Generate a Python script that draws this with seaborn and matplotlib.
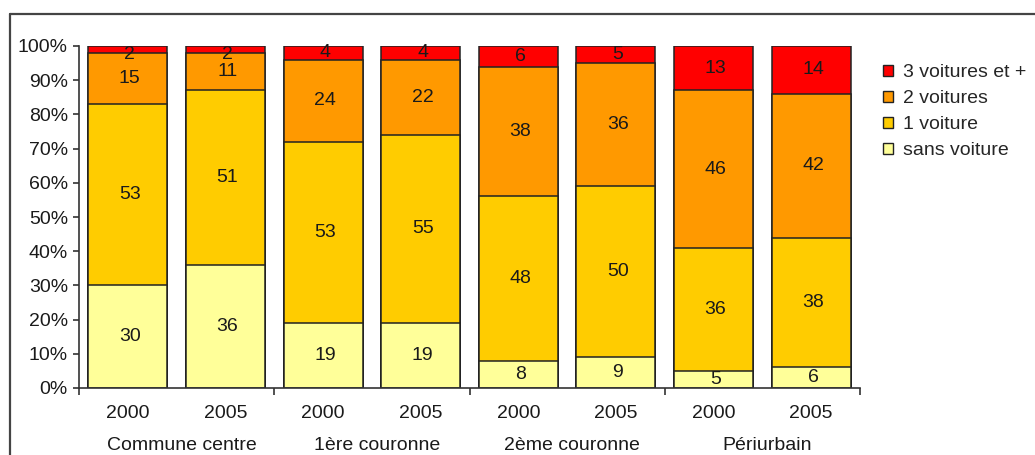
import numpy as np
import pandas as pd
import seaborn as sns
import matplotlib
matplotlib.use("Agg")
import matplotlib.pyplot as plt
from matplotlib.lines import Line2D
from matplotlib.patches import Patch

groups = ["Commune centre", "1ère couronne", "2ème couronne", "Périurbain"]
years = ["2000", "2005"]
series = ["sans voiture", "1 voiture", "2 voitures", "3 voitures et +"]
sans_voiture = [30, 36, 19, 19, 8, 9, 5, 6]
une_voiture = [53, 51, 53, 55, 48, 50, 36, 38]
deux_voitures = [15, 11, 24, 22, 38, 36, 46, 42]
trois_voitures = [2, 2, 4, 4, 6, 5, 13, 14]
colors = ["#FFFF99", "#FFCC00", "#FF9900", "#FF0000"]

sns.set_theme(style="white")
plt.rcParams["font.family"] = ["Liberation Sans", "DejaVu Sans"]

FS = 14
TXT = "#1a1a1a"

bars = [f"{g} {y}" for g in groups for y in years]
vals = np.array([sans_voiture, une_voiture, deux_voitures, trois_voitures], dtype=float)
cum = np.cumsum(vals, axis=0)

fig = plt.figure(figsize=(10.35, 4.55), dpi=100)
ax = fig.add_axes([79 / 1035, 1 - 388 / 455, (860 - 79) / 1035, (388 - 46) / 455])

for i in range(3, -1, -1):
    df = pd.DataFrame({"bar": bars, "cum": cum[i]})
    sns.barplot(data=df, x="bar", y="cum", order=bars, color=colors[i], saturation=1,
                width=0.81, edgecolor="#222222", linewidth=1.1, errorbar=None, ax=ax)

# value labels
for i in range(4):
    bottoms = cum[i] - vals[i]
    for j in range(8):
        y = bottoms[j] + vals[i][j] / 2
        if vals[i][j] <= 3:
            y -= 1.5
        ax.text(j + 0.02, y, f"{int(vals[i][j])}", ha="center", va="center",
                fontsize=FS, color=TXT)

ax.set_ylim(0, 100)
ax.set_xlim(-0.5, 7.5)
ax.set_yticks(np.arange(0, 101, 10))
ax.set_yticklabels([f"{v}%" for v in range(0, 101, 10)], fontsize=FS, color=TXT)
ax.set_xticks(range(8))
ax.set_xticklabels(years * 4, fontsize=FS, color=TXT)
ax.set_xticks([-0.5, 1.5, 3.5, 5.5, 7.5], minor=True)
ax.tick_params(axis="x", which="major", length=0, pad=12)
ax.tick_params(axis="x", which="minor", length=5, width=1.2, color="#333333", direction="out", bottom=True)
ax.tick_params(axis="y", length=4, width=1.2, color="#333333", direction="out", left=True, pad=4)
ax.set_xlabel("")
ax.set_ylabel("")
for s in ["top", "right"]:
    ax.spines[s].set_visible(False)
for s in ["left", "bottom"]:
    ax.spines[s].set_color("#333333")
    ax.spines[s].set_linewidth(1.2)

trans = ax.get_xaxis_transform()
for k, g in enumerate(groups):
    ax.text(2 * k + 0.55, -0.168, g, transform=trans, ha="center", va="center",
            fontsize=FS, color=TXT)

handles = [Patch(facecolor=colors[i], edgecolor="#222222", linewidth=1.0, label=series[i]) for i in range(3, -1, -1)]
fig.legend(handles=handles, loc="upper left", bbox_to_anchor=(883 / 1035, 1 - 64 / 455),
           frameon=False, fontsize=FS, handlelength=0.5, handleheight=0.5,
           handletextpad=0.55, labelspacing=0.47, borderaxespad=0, borderpad=0)

fx = 9.5 / 1035
fy = 1 - 13.5 / 455
fig.add_artist(Line2D([fx, fx], [0, fy], color="#444444", lw=1.6))
fig.add_artist(Line2D([fx, 1], [fy, fy], color="#444444", lw=1.6))

fig.savefig("out.png", dpi=100)
